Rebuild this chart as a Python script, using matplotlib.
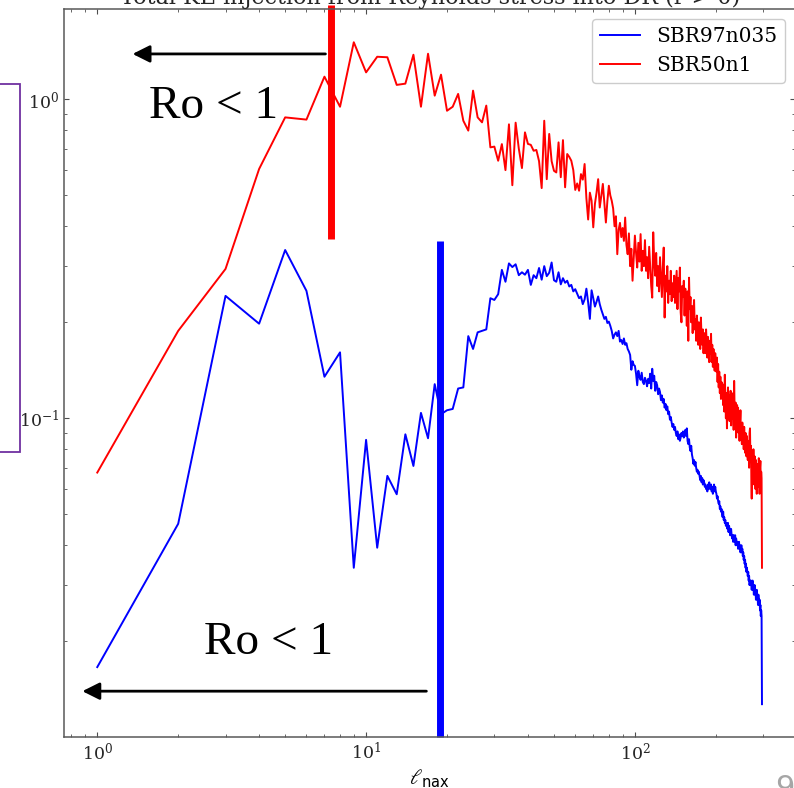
import numpy as np
import matplotlib
matplotlib.use('Agg')
import matplotlib.pyplot as plt
from matplotlib.patches import Rectangle

# -----------------------------
# Data
# -----------------------------
series_names = ["SBR97n035", "SBR50n1"]
series_colors = ["blue", "red"]

# SBR97n035, ell = 1 .. 297
blue_vals = [
    0.0166, 0.0467, 0.242, 0.198, 0.337, 0.251, 0.135, 0.161, 0.034, 0.0856,
    0.0393, 0.066, 0.0578, 0.0891, 0.0709, 0.104, 0.0866, 0.128, 0.103, 0.106,
    0.107, 0.124, 0.125, 0.181, 0.165, 0.186, 0.188, 0.190, 0.238, 0.235,
    0.245, 0.292, 0.268, 0.306, 0.298, 0.304, 0.281, 0.287, 0.282, 0.292,
    0.262, 0.281, 0.275, 0.296, 0.272, 0.300, 0.279, 0.286, 0.308, 0.271,
    0.268, 0.287, 0.263, 0.275, 0.266, 0.270, 0.259, 0.262, 0.250, 0.254,
    0.246, 0.238, 0.241, 0.228, 0.236, 0.255, 0.231, 0.205, 0.252, 0.238,
    0.224, 0.232, 0.241, 0.228, 0.219, 0.212, 0.205, 0.208, 0.199, 0.201,
    0.195, 0.188, 0.178, 0.183, 0.186, 0.181, 0.188, 0.174, 0.176, 0.171,
    0.178, 0.170, 0.172, 0.165, 0.162, 0.158, 0.142, 0.151, 0.147, 0.146,
    0.138, 0.127, 0.141, 0.135, 0.132, 0.139, 0.130, 0.128, 0.134, 0.131,
    0.126, 0.133, 0.129, 0.138, 0.124, 0.143, 0.131, 0.136, 0.122, 0.130,
    0.127, 0.119, 0.124, 0.121, 0.114, 0.118, 0.112, 0.115, 0.108, 0.111,
    0.106, 0.109, 0.103, 0.105, 0.099, 0.101, 0.097, 0.094, 0.096, 0.092,
    0.094, 0.090, 0.088, 0.091, 0.086, 0.089, 0.085, 0.087, 0.090, 0.088,
    0.091, 0.087, 0.089, 0.092, 0.088, 0.093, 0.085, 0.083, 0.086, 0.081,
    0.079, 0.082, 0.077, 0.075, 0.072, 0.074, 0.071, 0.073, 0.070, 0.068,
    0.069, 0.067, 0.068, 0.066, 0.064, 0.066, 0.063, 0.065, 0.062, 0.064,
    0.063, 0.061, 0.062, 0.060, 0.061, 0.059, 0.062, 0.060, 0.063, 0.061,
    0.060, 0.062, 0.059, 0.061, 0.058, 0.060, 0.062, 0.059, 0.061, 0.059,
    0.058, 0.056, 0.057, 0.055, 0.054, 0.055, 0.052, 0.053, 0.051, 0.052,
    0.050, 0.049, 0.051, 0.048, 0.049, 0.047, 0.048, 0.046, 0.047, 0.046,
    0.045, 0.047, 0.044, 0.046, 0.045, 0.043, 0.044, 0.045, 0.043, 0.042,
    0.043, 0.041, 0.043, 0.042, 0.041, 0.043, 0.040, 0.042, 0.041, 0.040,
    0.041, 0.039, 0.040, 0.041, 0.039, 0.040, 0.038, 0.039, 0.040, 0.038,
    0.039, 0.037, 0.038, 0.036, 0.037, 0.035, 0.036, 0.034, 0.035, 0.033,
    0.034, 0.033, 0.032, 0.033, 0.031, 0.032, 0.030, 0.031, 0.030, 0.031,
    0.030, 0.029, 0.030, 0.031, 0.029, 0.030, 0.028, 0.029, 0.030, 0.028,
    0.029, 0.027, 0.028, 0.029, 0.027, 0.028, 0.026, 0.028, 0.027, 0.026,
    0.027, 0.025, 0.026, 0.024, 0.025, 0.024, 0.0127,
]

# SBR50n1, ell = 1 .. 297
red_vals = [
    0.0676, 0.188, 0.294, 0.605, 0.878, 0.864, 1.178, 0.948, 1.51, 1.215,
    1.36, 1.355, 1.11, 1.12, 1.38, 0.948, 1.39, 1.027, 1.195, 0.921,
    0.948, 1.04, 0.857, 0.798, 1.065, 0.878, 0.847, 0.956, 0.707, 0.711,
    0.642, 0.724, 0.600, 0.835, 0.538, 0.845, 0.700, 0.609, 0.788, 0.725,
    0.720, 0.690, 0.694, 0.640, 0.527, 0.857, 0.562, 0.779, 0.640, 0.597,
    0.590, 0.733, 0.570, 0.745, 0.530, 0.674, 0.660, 0.642, 0.600, 0.520,
    0.545, 0.517, 0.583, 0.560, 0.627, 0.490, 0.420, 0.510, 0.481, 0.397,
    0.470, 0.510, 0.562, 0.458, 0.500, 0.543, 0.470, 0.411, 0.480, 0.536,
    0.500, 0.481, 0.455, 0.400, 0.430, 0.327, 0.390, 0.410, 0.370, 0.395,
    0.360, 0.426, 0.350, 0.327, 0.380, 0.300, 0.340, 0.270, 0.320, 0.374,
    0.330, 0.297, 0.355, 0.310, 0.378, 0.290, 0.335, 0.300, 0.362, 0.290,
    0.320, 0.275, 0.345, 0.300, 0.260, 0.239, 0.383, 0.310, 0.280, 0.330,
    0.260, 0.300, 0.250, 0.320, 0.275, 0.240, 0.295, 0.343, 0.207, 0.280,
    0.250, 0.300, 0.230, 0.270, 0.245, 0.290, 0.233, 0.265, 0.240, 0.280,
    0.230, 0.260, 0.290, 0.220, 0.275, 0.250, 0.297, 0.215, 0.200, 0.260,
    0.240, 0.270, 0.210, 0.255, 0.230, 0.195, 0.250, 0.175, 0.276, 0.220,
    0.240, 0.200, 0.225, 0.185, 0.215, 0.235, 0.190, 0.205, 0.175, 0.210,
    0.195, 0.170, 0.200, 0.185, 0.165, 0.207, 0.180, 0.170, 0.190, 0.160,
    0.185, 0.175, 0.160, 0.190, 0.170, 0.155, 0.180, 0.165, 0.150, 0.175,
    0.160, 0.184, 0.150, 0.170, 0.145, 0.165, 0.155, 0.141, 0.160, 0.150,
    0.140, 0.155, 0.130, 0.148, 0.125, 0.140, 0.120, 0.135, 0.115, 0.130,
    0.118, 0.128, 0.110, 0.125, 0.105, 0.137, 0.115, 0.100, 0.120, 0.093,
    0.112, 0.125, 0.100, 0.118, 0.098, 0.110, 0.122, 0.095, 0.108, 0.115,
    0.100, 0.120, 0.092, 0.131, 0.105, 0.097, 0.112, 0.087, 0.104, 0.110,
    0.095, 0.108, 0.090, 0.102, 0.085, 0.098, 0.106, 0.088, 0.095, 0.083,
    0.097, 0.086, 0.092, 0.080, 0.094, 0.084, 0.078, 0.090, 0.082, 0.076,
    0.088, 0.080, 0.074, 0.085, 0.078, 0.070, 0.090, 0.093, 0.075, 0.082,
    0.068, 0.056, 0.078, 0.072, 0.065, 0.080, 0.070, 0.062, 0.076, 0.068,
    0.060, 0.074, 0.066, 0.058, 0.072, 0.064, 0.070, 0.061, 0.075, 0.066,
    0.058, 0.070, 0.0735, 0.062, 0.068, 0.065, 0.034,
]

# Ro = 1 markers (ell where Rossby number crosses 1) and their vertical spans
ro_ell = [18.8, 7.4]
ro_span = [(0.0100, 0.36), (0.365, 1.97)]

# -----------------------------
# Style
# -----------------------------
plt.rcParams['font.family'] = 'serif'
plt.rcParams['font.serif'] = ['DejaVu Serif']
plt.rcParams['mathtext.fontset'] = 'dejavuserif'
plt.rcParams['xtick.direction'] = 'in'
plt.rcParams['ytick.direction'] = 'in'

fig = plt.figure(figsize=(7.94, 7.88), dpi=100)
ax = fig.add_axes([0.0806, 0.0647, 0.921, 0.9239])

for vals, name, color in zip([blue_vals, red_vals], series_names, series_colors):
    ell = np.arange(1, len(vals) + 1)
    ax.plot(ell, vals, color=color, lw=1.4, label=name)

ax.set_xscale('log')
ax.set_yscale('log')
ax.set_xlim(0.752, 395)
ax.set_ylim(0.01002, 1.92)

ax.tick_params(which='both', top=True, right=True, colors='0.3', labelcolor='0.15',
               labelsize=12.5)
for sp in ax.spines.values():
    sp.set_color('0.35')
    sp.set_linewidth(1.1)

ax.set_title("Total KE injection from Reynolds stress into DR (r > 0)",
             fontsize=16, pad=3.5, color='0.15')
ax.set_xlabel(r"$\ell_{\mathsf{nax}}$", fontsize=15, labelpad=3)

ax.legend(loc='upper right', fontsize=14.5, framealpha=1.0)

# -----------------------------
# Ro < 1 annotations (overlays)
# -----------------------------
for x, (y0, y1), color in zip(ro_ell, ro_span, series_colors):
    ax.plot([x, x], [y0, y1], color=color, lw=5, clip_on=False, solid_capstyle='butt')

arrow = dict(arrowstyle='-|>', color='black', lw=2.0, mutation_scale=26,
             shrinkA=0, shrinkB=0)
ax.annotate("", xy=(1.353, 1.388), xytext=(7.06, 1.388), arrowprops=arrow)
ax.annotate("", xy=(0.88, 0.01395), xytext=(16.76, 0.01395), arrowprops=arrow)

ro_font = dict(family='Liberation Serif', fontsize=34, color='black',
               ha='left', va='baseline')
ax.text(1.555, 0.874, "Ro < 1", **ro_font)
ax.text(2.505, 0.0182, "Ro < 1", **ro_font)

# slide leftovers: purple box on the left and page number
fig.add_artist(Rectangle((-12 / 794, (788 - 452) / 788), (19.5 + 12) / 794,
                         (452 - 84) / 788, transform=fig.transFigure, fill=False,
                         ec='#7030A0', lw=1.3))
fig.text(785 / 794, -0.012, "9", fontsize=22, color='#A6A6A6',
         family='DejaVu Sans', ha='center', va='baseline')

fig.savefig("out.png", dpi=100)
plt.close(fig)
